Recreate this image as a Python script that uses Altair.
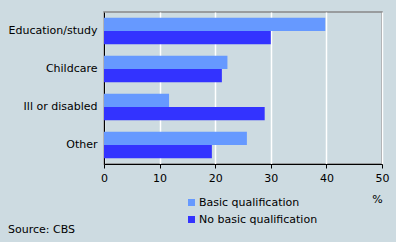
import altair as alt
import pandas as pd

categories = ["Education/study", "Childcare", "Ill or disabled", "Other"]
series = ["Basic qualification", "No basic qualification"]
basic = [39.8, 22.2, 11.7, 25.7]
no_basic = [30.0, 21.2, 28.9, 19.4]

rows = []
for c, b, n in zip(categories, basic, no_basic):
    rows.append({"cat": c, "series": series[0], "value": b})
    rows.append({"cat": c, "series": series[1], "value": n})
df = pd.DataFrame(rows)

FONT = "DejaVu Sans"
BG = "#cddbe1"

bars = alt.Chart(df).mark_bar().encode(
    y=alt.Y("cat:N", sort=categories, title=None,
            scale=alt.Scale(paddingInner=0.3, paddingOuter=0.15),
            axis=alt.Axis(ticks=False, domainColor="#000000", labelFontSize=11,
                          labelFont=FONT, labelColor="#000000", labelPadding=7,
                          grid=False)),
    yOffset=alt.YOffset("series:N", sort=series, scale=alt.Scale(paddingInner=0)),
    x=alt.X("value:Q", title="%",
            scale=alt.Scale(domain=[0, 50], nice=False),
            axis=alt.Axis(values=[0, 10, 20, 30, 40, 50], grid=True, gridColor="#ffffff",
                          gridWidth=1.5, domainColor="#000000", tickColor="#000000",
                          tickSize=4, labelFontSize=11, labelFont=FONT,
                          labelColor="#000000", labelPadding=4, labelFlush=False,
                          titleFont=FONT, titleFontSize=11, titleFontWeight="normal",
                          titleColor="#000000", titleAnchor="end", titleAlign="center",
                          titleX=273, titleY=29)),
    color=alt.Color("series:N", sort=series,
                    scale=alt.Scale(domain=series, range=["#6699ff", "#3333ff"]),
                    legend=alt.Legend(title=None, orient="none", legendX=82, legendY=185,
                                      symbolType="square", symbolSize=49,
                                      symbolStrokeWidth=0, labelFont=FONT,
                                      labelFontSize=11, labelColor="#000000",
                                      rowPadding=5, labelOffset=2)),
)

source = alt.Chart(pd.DataFrame({"t": ["Source: CBS"]})).mark_text(
    align="left", baseline="middle", font=FONT, fontSize=11, color="#000000"
).encode(text="t:N", x=alt.value(-96), y=alt.value(218))

chart = alt.layer(bars, source).properties(
    width=278, height=152, background=BG,
    padding={"left": 104, "top": 12, "right": 14, "bottom": 78},
    autosize=alt.AutoSizeParams(type="none"),
).configure_view(stroke="#888888", strokeWidth=1.5)

chart.save("out.html", embed_options={"renderer": "svg", "actions": False})
